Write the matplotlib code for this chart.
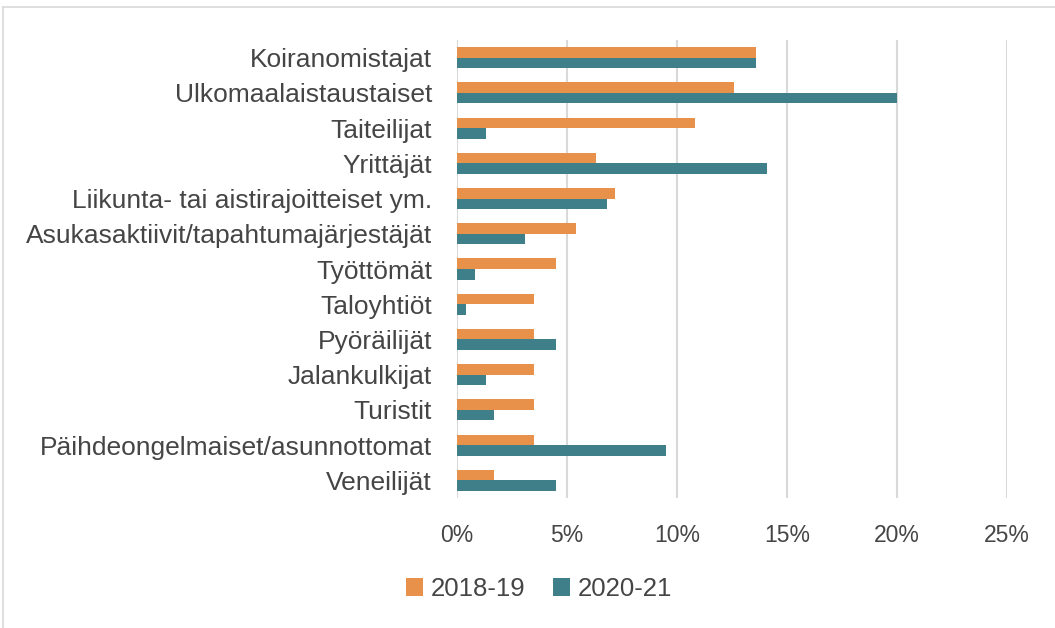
import matplotlib
matplotlib.use('Agg')
import matplotlib.pyplot as plt
from matplotlib.lines import Line2D
from matplotlib.ticker import FuncFormatter

# categories top to bottom
categories = ["Koiranomistajat", "Ulkomaalaistaustaiset", "Taiteilijat",
              "Yrittäjät", "Liikunta- tai aistirajoitteiset ym.",
              "Asukasaktiivit/tapahtumajärjestäjät", "Työttömät", "Taloyhtiöt",
              "Pyöräilijät", "Jalankulkijat", "Turistit",
              "Päihdeongelmaiset/asunnottomat", "Veneilijät"]
vals_1819 = [13.6, 12.6, 10.8, 6.3, 7.2, 5.4, 4.5, 3.5, 3.5, 3.5, 3.5, 3.5, 1.7]
vals_2021 = [13.6, 20.0, 1.3, 14.1, 6.8, 3.1, 0.8, 0.4, 4.5, 1.3, 1.7, 9.5, 4.5]
series_names = ["2018-19", "2020-21"]
xticks = [0, 5, 10, 15, 20, 25]

orange = "#E8914B"
teal = "#3F7F8A"
txt = "#454545"

plt.rcParams['font.family'] = ['Liberation Sans', 'DejaVu Sans']

fig = plt.figure(figsize=(10.55, 6.28), dpi=100)
ax = fig.add_axes([457 / 1055, 1 - 498 / 628, (1007 - 457) / 1055, (498 - 40) / 628])

n = len(categories)
pos = list(range(n))
h = 0.3
ax.barh([p - h / 2 for p in pos], vals_1819, height=h, color=orange, label=series_names[0], zorder=3)
ax.barh([p + h / 2 for p in pos], vals_2021, height=h, color=teal, label=series_names[1], zorder=3)

ax.set_ylim(n - 0.5, -0.5)
ax.set_xlim(0, 25)
ax.set_xticks(xticks)
ax.xaxis.set_major_formatter(FuncFormatter(lambda v, p: "%d%%" % v))
ax.set_yticks(pos)
ax.set_yticklabels(categories)
ax.grid(axis='x', color='#d9d9d9', linewidth=1.5, zorder=0)
for s in ax.spines.values():
    s.set_visible(False)
ax.tick_params(length=0, colors=txt)
ax.tick_params(axis='x', pad=19, labelsize=16.5)
ax.tick_params(axis='y', pad=18, labelsize=19)

leg = fig.legend(loc='center', bbox_to_anchor=(539 / 1055, 1 - 589 / 628), ncol=2,
                 frameon=False, fontsize=18.5, handlelength=0.65, handleheight=0.65,
                 handletextpad=0.3, columnspacing=1.1)
for t in leg.get_texts():
    t.set_color(txt)

# light frame lines (left and top) around the chart
fig.lines.append(Line2D([3 / 1055, 3 / 1055], [0, 1 - 7 / 628], transform=fig.transFigure,
                        color='#d9d9d9', linewidth=1.2))
fig.lines.append(Line2D([3 / 1055, 1], [1 - 7 / 628, 1 - 7 / 628], transform=fig.transFigure,
                        color='#d9d9d9', linewidth=1.2))

plt.savefig("out.png", dpi=100)
